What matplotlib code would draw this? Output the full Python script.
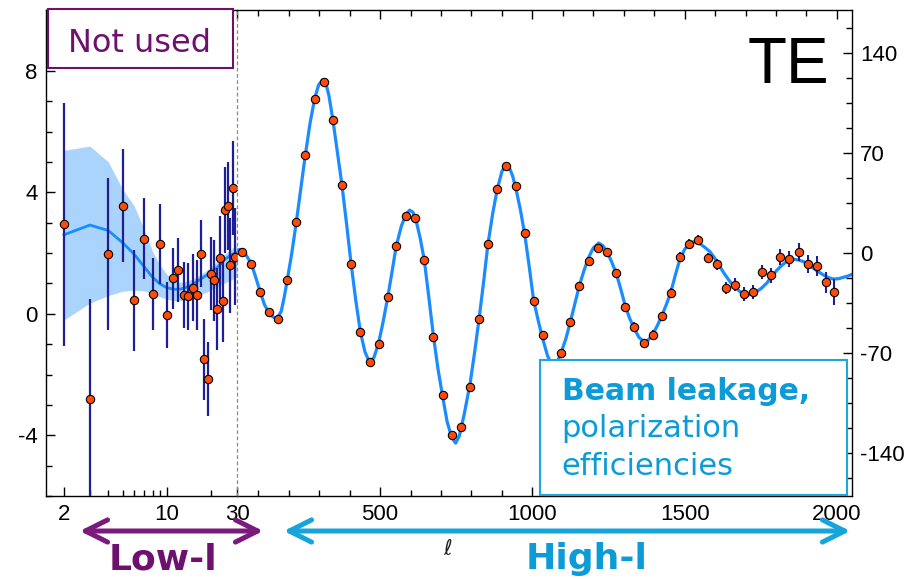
import matplotlib
matplotlib.use('Agg')
import matplotlib.pyplot as plt
from matplotlib.patches import Rectangle, FancyArrowPatch
from matplotlib.ticker import FixedLocator, NullFormatter, FixedFormatter, MultipleLocator

plt.rcParams['axes.unicode_minus'] = False
plt.rcParams['font.family'] = ['Liberation Sans', 'DejaVu Sans']

# ---------------- data ----------------
# Low-ell (left axis, log x)
ell_low = [2, 3, 4, 5, 6, 7, 8, 9, 10, 11, 12, 13, 14, 15, 16, 17, 18, 19, 20,
           21, 22, 23, 24, 25, 26, 27, 28, 29]
D_low = [2.94, -2.80, 1.97, 3.55, 0.44, 2.47, 0.66, 2.30, -0.03, 1.17, 1.45, 0.61,
         0.58, 0.86, 0.63, 1.98, -1.50, -2.14, 1.32, 1.10, 0.16, 1.85, 0.42, 3.42,
         3.55, 1.60, 4.13, 1.88]
err_low = [4.0, 3.3, 2.5, 1.86, 1.67, 1.33, 1.19, 1.32, 1.09, 1.0, 1.06, 1.08, 1.1,
           1.1, 1.15, 1.1, 1.33, 1.22, 1.21, 1.33, 1.36, 1.38, 1.34, 1.42, 1.45,
           1.56, 1.55, 1.6]

th_low_ell = [2, 3, 4, 5, 6, 7, 8, 9, 10, 11, 12, 13, 14, 15, 16, 17, 18, 19, 20,
              21, 22, 23, 24, 25, 26, 27, 28, 29, 30]
th_low = [2.6, 2.92, 2.74, 2.34, 1.96, 1.55, 1.2, 0.98, 0.86, 0.81, 0.80, 0.84,
          0.90, 0.97, 1.06, 1.14, 1.22, 1.30, 1.38, 1.45, 1.52, 1.62, 1.72, 1.80,
          1.86, 1.92, 1.96, 2.0, 2.02]
band_up = [5.38, 5.52, 5.0, 4.1, 3.55, 2.78, 2.05, 1.6, 1.3, 1.12, 1.04, 1.05, 1.1,
           1.15, 1.22, 1.3, 1.38, 1.46, 1.55, 1.63, 1.72, 1.81, 1.9, 1.98, 2.05,
           2.11, 2.17, 2.21, 2.25]
band_lo = [-0.2, 0.35, 0.6, 0.74, 0.78, 0.75, 0.66, 0.56, 0.48, 0.44, 0.43, 0.45,
           0.5, 0.55, 0.6, 0.64, 0.68, 0.73, 0.78, 0.83, 0.88, 0.93, 0.98, 1.02,
           1.06, 1.1, 1.14, 1.17, 1.2]

# High-ell (right axis, linear x)
ell_high = [47, 77, 106, 135, 165, 195, 225, 254, 285, 315, 345, 375, 405, 435, 466,
            495, 525, 553, 585, 615, 645, 675, 705, 735, 765, 795, 825, 854, 885,
            914, 945, 975, 1004, 1034, 1064, 1094, 1125, 1154, 1185, 1215, 1245,
            1275, 1305, 1335, 1366, 1395, 1425, 1454, 1485, 1514, 1544, 1576, 1605,
            1635, 1664, 1694, 1725, 1754, 1784, 1814, 1844, 1875, 1904, 1934, 1963,
            1989]
D_high = [0.9, -7.5, -27.3, -41.5, -46.4, -19.1, 21.9, 68.6, 108, 119.7, 93.3, 47.4,
          -7.9, -55.1, -76.3, -63.9, -31, 4.9, 25.9, 24.3, -4.9, -58.8, -99.4,
          -127.4, -122, -93.6, -46.2, 6.3, 44.8, 60.9, 46.7, 14.2, -33.8, -57.6,
          -80, -69.8, -48.5, -22.9, -5.8, 3.7, 0.5, -13.8, -37.8, -51.6, -63,
          -57.2, -44.3, -27.8, -2.8, 6.5, 8.9, -3.5, -7.9, -24.5, -22.2, -28.7,
          -27.5, -13.1, -15.6, -3.0, -4.2, 0.5, -7.7, -8.9, -20.5, -27.5]
err_high = [1.5, 1.5, 1.5, 1.5, 1.5, 1.5, 1.5, 1.5, 1.5, 1.5, 1.5, 1.5, 1.5, 1.5, 1.5,
            1.5, 1.5, 1.5, 1.5, 1.5, 1.5, 1.5, 1.8, 1.8, 1.8, 1.8, 1.8, 1.8, 2, 2,
            2, 2, 2.2, 2.2, 2.2, 2.4, 2.4, 2.5, 2.5, 2.6, 2.7, 2.8, 2.9, 3, 3,
            3.1, 3.2, 3.3, 3.4, 3.5, 3.6, 3.8, 4, 4.2, 4.4, 4.6, 4.8, 5, 5.2, 5.5,
            5.8, 6.2, 6.5, 7, 7.5, 9]

th_high_ell = [30, 40, 50, 60, 77, 90, 106, 120, 135, 150, 162, 175, 185, 195, 210,
               225, 240, 254, 270, 285, 298, 310, 320, 332, 345, 360, 375, 390, 405,
               420, 435, 450, 466, 480, 495, 510, 525, 540, 553, 570, 585, 597, 608,
               620, 632, 645, 660, 675, 690, 705, 720, 735, 748, 760, 775, 795, 810,
               825, 840, 854, 870, 885, 900, 912, 922, 935, 945, 960, 975, 990, 1004,
               1020, 1034, 1050, 1065, 1080, 1094, 1110, 1125, 1140, 1154, 1170,
               1185, 1200, 1218, 1232, 1245, 1260, 1275, 1290, 1305, 1320, 1335,
               1350, 1366, 1380, 1395, 1410, 1425, 1440, 1454, 1470, 1485, 1500,
               1515, 1530, 1544, 1560, 1583, 1600, 1616, 1632, 1649, 1665, 1682,
               1704, 1720, 1737, 1753, 1770, 1786, 1803, 1820, 1835, 1857, 1873,
               1890, 1906, 1923, 1940, 1956, 1972, 1989, 2005, 2022, 2038, 2049]
th_high = [2.0, 2.5, 1.2, -1.5, -7.5, -16, -27, -36, -42, -45, -45.5, -41, -31, -19,
           0, 22, 46, 68, 91, 108, 117.5, 121, 120.5, 110, 93, 70, 47, 20, -8, -33,
           -55, -69, -77, -73, -63, -48, -31, -12, 5, 19, 27, 30, 28.5, 21, 10, -5,
           -31, -58, -81, -100, -118, -129, -133, -128, -114, -92, -70, -46, -20, 6,
           28, 45, 57, 62, 61, 54, 46, 31, 13, -10, -33, -48, -60, -72, -79, -77,
           -70, -60, -48, -35, -23, -12, -3, 3.5, 7, 5, 1, -6, -14, -25, -37, -46,
           -53, -59, -62, -61, -57, -51, -44, -36, -28, -15, -4, 2.5, 6.5, 7.8,
           7.2, 5, 1, -4, -9.6, -15, -20, -24, -27, -29.4, -28.8, -27, -24.5, -21,
           -16.5, -12, -8.5, -6, -4.4, -4.8, -6, -8, -10.7, -13.2, -15.4, -17.2,
           -18.2, -18, -17, -16, -15]

xt_low = [2, 10, 30]
xt_low_lbl = ['2', '10', '30']
xt_high = [500, 1000, 1500, 2000]
xt_high_lbl = ['500', '1000', '1500', '2000']
yt_left = [-4, 0, 4, 8]
yt_right = [-140, -70, 0, 70, 140]

# ---------------- colours ----------------
c_line = '#1a8cff'
c_band = '#aad4fb'
c_err = '#1e1e96'
c_pt = '#ff4a0a'
c_purple = '#6e106e'
c_cyan = '#0d9bd8'
c_cyan_box = '#1aa8df'

W, H = 910, 579
fig = plt.figure(figsize=(9.1, 5.79), dpi=100)


def fx(px):
    return px / W


def fy(py):
    return 1 - py / H


x0, xm, x1 = 46, 237, 852
ytop, ybot = 10, 496
ax_low = fig.add_axes([fx(x0), fy(ybot), fx(xm) - fx(x0), fy(ytop) - fy(ybot)])
ax_high = fig.add_axes([fx(xm), fy(ybot), fx(x1) - fx(xm), fy(ytop) - fy(ybot)])
for a in (ax_low, ax_high):
    a.patch.set_alpha(0)
    for s in a.spines.values():
        s.set_linewidth(1.0)

# ---- low ell ----
ax_low.set_xscale('log')
ax_low.fill_between(th_low_ell, band_lo, band_up, color=c_band, lw=0, zorder=1)
ax_low.plot(th_low_ell, th_low, color=c_line, lw=2.0, zorder=2)
ax_low.errorbar(ell_low, D_low, yerr=err_low, fmt='none', ecolor=c_err, elinewidth=1.6,
                capsize=0, zorder=3)
ax_low.plot(ell_low, D_low, 'o', ms=6, mfc=c_pt, mec='black', mew=0.8, zorder=4)
ax_low.set_xlim(1.508, 30)
ax_low.set_ylim(-6, 10)
ax_low.spines['right'].set_visible(False)
ax_low.xaxis.set_major_locator(FixedLocator(xt_low))
ax_low.xaxis.set_major_formatter(FixedFormatter(xt_low_lbl))
ax_low.xaxis.set_minor_locator(FixedLocator([3, 4, 5, 6, 7, 8, 9, 20]))
ax_low.xaxis.set_minor_formatter(NullFormatter())
ax_low.yaxis.set_major_locator(FixedLocator(yt_left))
ax_low.yaxis.set_minor_locator(MultipleLocator(1))
ax_low.tick_params(axis='both', which='both', direction='in', top=True, right=False,
                   labelsize=16)
ax_low.tick_params(which='major', length=6.5, width=1.0, pad=6)
ax_low.tick_params(which='minor', length=4.5, width=1.0)

# ---- high ell ----
ax_high.plot(th_high_ell, th_high, color=c_line, lw=2.3, zorder=2)
ax_high.errorbar(ell_high, D_high, yerr=err_high, fmt='none', ecolor=c_err,
                 elinewidth=1.5, capsize=0, zorder=3)
ax_high.plot(ell_high, D_high, 'o', ms=6, mfc=c_pt, mec='black', mew=0.8, zorder=4)
ax_high.set_xlim(30, 2049.7)
ax_high.set_ylim(-170, 170)
ax_high.spines['left'].set_visible(False)
ax_high.yaxis.tick_right()
ax_high.xaxis.set_major_locator(FixedLocator(xt_high))
ax_high.xaxis.set_major_formatter(FixedFormatter(xt_high_lbl))
ax_high.xaxis.set_minor_locator(FixedLocator([100, 200, 300, 400, 600, 700, 800, 900,
                                              1100, 1200, 1300, 1400, 1600, 1700,
                                              1800, 1900]))
ax_high.yaxis.set_major_locator(FixedLocator(yt_right))
ax_high.yaxis.set_minor_locator(MultipleLocator(17.5))
ax_high.tick_params(axis='both', which='both', direction='in', top=True, left=False,
                    right=True, labelsize=16)
ax_high.tick_params(which='major', length=6.5, width=1.0, pad=6)
ax_high.tick_params(which='minor', length=4.5, width=1.0)
ax_high.axvline(30, color='#8a8a8a', ls=(0, (3, 2)), lw=0.9, clip_on=False, zorder=5)

# ---- annotations ----
fig.add_artist(Rectangle((fx(48), fy(68)), fx(233) - fx(48), fy(9) - fy(68),
                         transform=fig.transFigure, facecolor='white',
                         edgecolor=c_purple, lw=1.5, zorder=5))
fig.text(fx(139), fy(52), 'Not used', color=c_purple, fontsize=23,
         family='DejaVu Sans', ha='center', va='baseline', zorder=6)

fig.text(fx(829), fy(83), 'TE', color='black', fontsize=46, ha='right',
         va='baseline', zorder=6)

fig.add_artist(Rectangle((fx(540), fy(495)), fx(847) - fx(540), fy(360) - fy(495),
                         transform=fig.transFigure, facecolor='white',
                         edgecolor=c_cyan_box, lw=1.5, zorder=5))
fig.text(fx(562), fy(400), 'Beam leakage,', color=c_cyan, fontsize=21.5,
         fontweight='bold', family='DejaVu Sans', ha='left', va='baseline', zorder=6)
fig.text(fx(561), fy(437), 'polarization', color=c_cyan, fontsize=22,
         family='DejaVu Sans', ha='left', va='baseline', zorder=6)
fig.text(fx(561), fy(475), 'efficiencies', color=c_cyan, fontsize=22,
         family='DejaVu Sans', ha='left', va='baseline', zorder=6)

fig.text(fx(448), fy(555), r'$\ell$', color='#222222', fontsize=15, ha='center',
         va='baseline')

for (xa, xb, col) in [(77, 266, '#7a1a7c'), (281, 853, '#16a4dc')]:
    arr = FancyArrowPatch((fx(xa), fy(531)), (fx(xb), fy(531)),
                          transform=fig.transFigure,
                          arrowstyle='<->,head_length=16,head_width=8',
                          mutation_scale=1, color=col, lw=3.6,
                          capstyle='round', joinstyle='round', zorder=6)
    fig.add_artist(arr)

fig.text(fx(163), fy(569), 'Low-l', color=c_purple, fontsize=26, fontweight='bold',
         family='DejaVu Sans', ha='center', va='baseline')
fig.text(fx(587), fy(569), 'High-l', color=c_cyan, fontsize=26, fontweight='bold',
         family='DejaVu Sans', ha='center', va='baseline')

fig.savefig('out.png', dpi=100)
